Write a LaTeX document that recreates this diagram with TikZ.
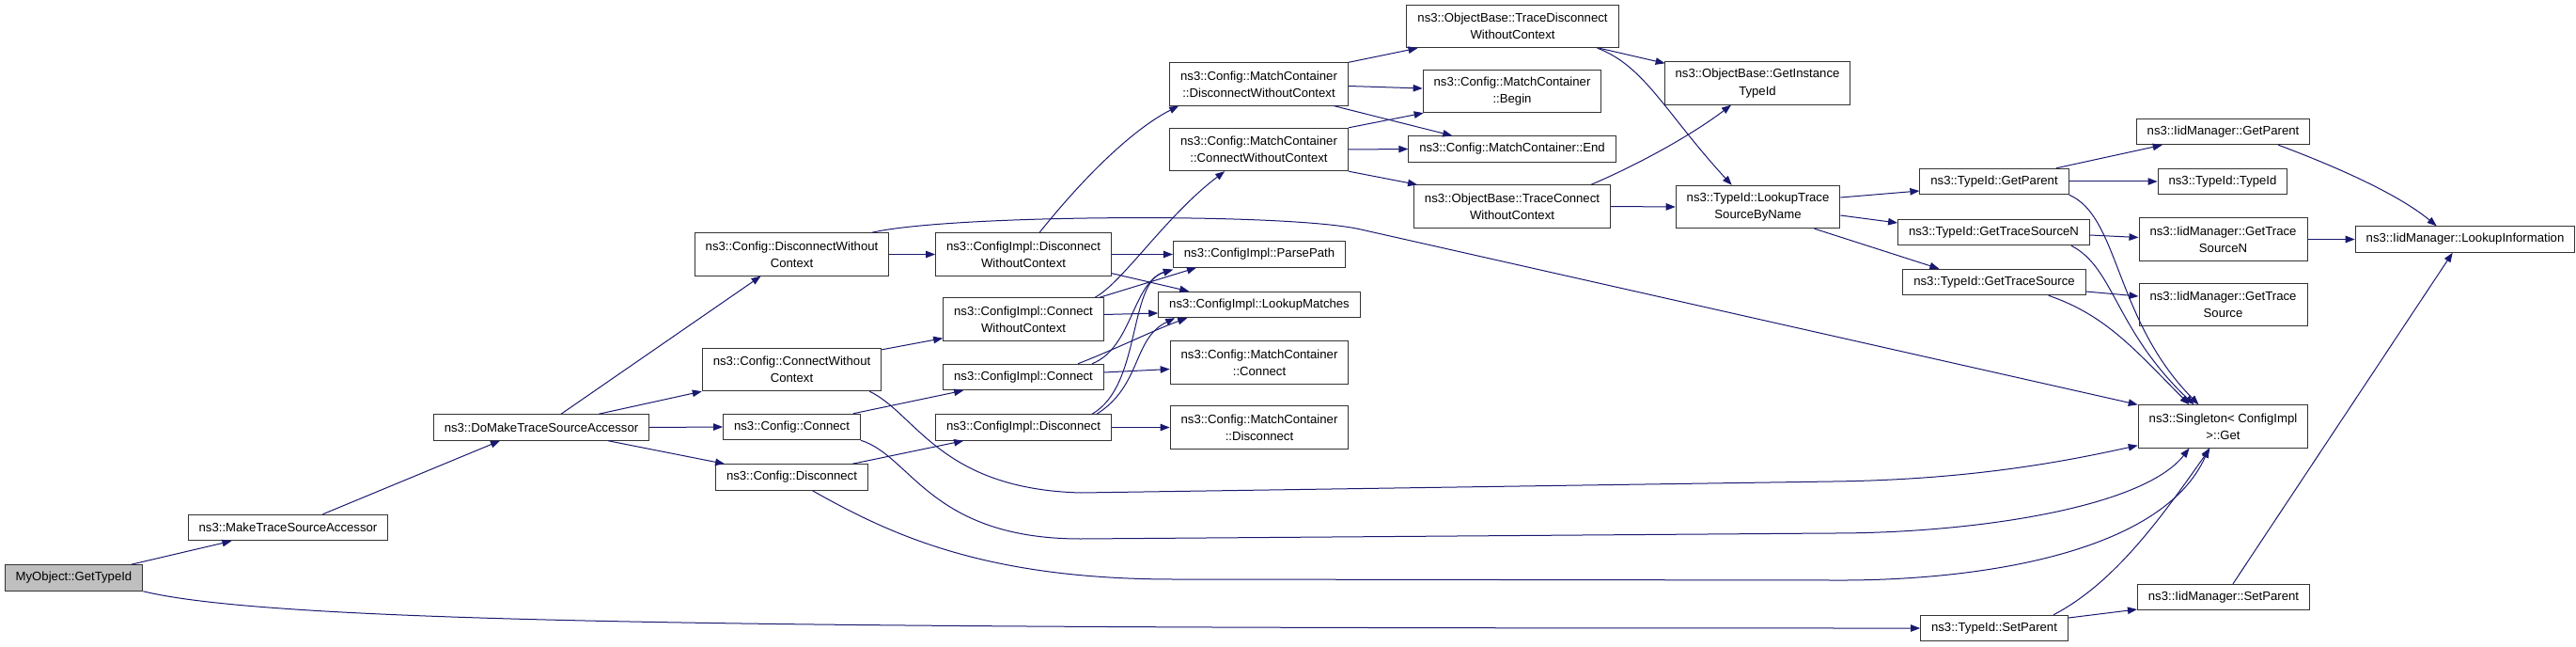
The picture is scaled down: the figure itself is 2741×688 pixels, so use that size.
\documentclass[tikz,border=0pt]{standalone}
\usepackage{fontspec}
\setmainfont{Liberation Sans}
\usetikzlibrary{arrows.meta}
\usetikzlibrary{calc}
\usepackage{xcolor}

\definecolor{edgeblue}{HTML}{191970}
\definecolor{rootgray}{HTML}{BFBFBF}

\tikzset{
  fn/.style={draw=black!80, line width=0.75pt, fill=white, align=center,
    font=\fontsize{9.87}{13.7}\selectfont, inner xsep=8.6pt, inner ysep=1pt,
    minimum height=20.6pt},
  fn2/.style={fn, minimum height=34pt},
  call/.style={draw=edgeblue, line width=0.75pt,
    -{Triangle[length=7.5pt,width=5.6pt]}},
}

\begin{document}
\begin{tikzpicture}[x=0.75pt,y=-0.75pt]
        \useasboundingbox (0,0) rectangle (2741,688);
        %% functions
        \node[fn, fill=rootgray] (root) at (78.5,614.5) {MyObject::GetTypeId};
        \node[fn] (mtsa) at (306.5,561) {ns3::MakeTraceSourceAccessor};
        \node[fn] (dmtsa) at (576,454.5) {ns3::DoMakeTraceSourceAccessor};
        \node[fn2] (cdwc) at (842.5,270.5) {ns3::Config::DisconnectWithout\\Context};
        \node[fn2] (ccwc) at (842.5,393) {ns3::Config::ConnectWithout\\Context};
        \node[fn] (cc) at (842.5,454) {ns3::Config::Connect};
        \node[fn] (cd) at (842.5,507.5) {ns3::Config::Disconnect};
        \node[fn2] (idwc) at (1089,270.5) {ns3::ConfigImpl::Disconnect\\WithoutContext};
        \node[fn2] (icwc) at (1089,339.5) {ns3::ConfigImpl::Connect\\WithoutContext};
        \node[fn] (ic) at (1089,401) {ns3::ConfigImpl::Connect};
        \node[fn] (id) at (1089,454.5) {ns3::ConfigImpl::Disconnect};
        \node[fn2] (mdwc) at (1339.5,89.5) {ns3::Config::MatchContainer\\::DisconnectWithoutContext};
        \node[fn2] (mcwc) at (1339.5,159) {ns3::Config::MatchContainer\\::ConnectWithoutContext};
        \node[fn] (pp) at (1340,270.5) {ns3::ConfigImpl::ParsePath};
        \node[fn] (lm) at (1340,324) {ns3::ConfigImpl::LookupMatches};
        \node[fn2] (mcc) at (1340,385.5) {ns3::Config::MatchContainer\\::Connect};
        \node[fn2] (mcd) at (1340,454.5) {ns3::Config::MatchContainer\\::Disconnect};
        \node[fn2] (otdwc) at (1609.5,28) {ns3::ObjectBase::TraceDisconnect\\WithoutContext};
        \node[fn2] (mcb) at (1609,97) {ns3::Config::MatchContainer\\::Begin};
        \node[fn] (mce) at (1609,158.5) {ns3::Config::MatchContainer::End};
        \node[fn2] (otcwc) at (1609,219.5) {ns3::ObjectBase::TraceConnect\\WithoutContext};
        \node[fn2] (ogit) at (1870,88.5) {ns3::ObjectBase::GetInstance\\TypeId};
        \node[fn2] (lts) at (1870.5,220) {ns3::TypeId::LookupTrace\\SourceByName};
        \node[fn] (tgp) at (2122,193) {ns3::TypeId::GetParent};
        \node[fn] (tgsn) at (2121.5,247) {ns3::TypeId::GetTraceSourceN};
        \node[fn] (tgs) at (2122,300) {ns3::TypeId::GetTraceSource};
        \node[fn] (tsp) at (2122,668) {ns3::TypeId::SetParent};
        \node[fn] (igp) at (2365.5,140) {ns3::IidManager::GetParent};
        \node[fn] (tti) at (2365,193) {ns3::TypeId::TypeId};
        \node[fn2] (igsn) at (2365.5,254.5) {ns3::IidManager::GetTrace\\SourceN};
        \node[fn2] (igs) at (2365.5,324) {ns3::IidManager::GetTrace\\Source};
        \node[fn2] (sg) at (2365.5,453.5) {ns3::Singleton< ConfigImpl\\>::Get};
        \node[fn] (isp) at (2366,635) {ns3::IidManager::SetParent};
        \node[fn] (li) at (2623,254.5) {ns3::IidManager::LookupInformation};
        %%
        %% calls, left part
        \draw[call] ($(root.north)+(61,0)$) -- ($(mtsa.south)+(-60,0)$);
        \draw[call] (root.south east) .. controls (300,665) and (900,668) .. (tsp.west);
        \draw[call] ($(mtsa.north)+(37,0)$) -- ($(dmtsa.south)+(-44,0)$);
        \draw[call] ($(dmtsa.north)+(21,0)$) -- ($(cdwc.south)+(-33,0)$);
        \draw[call] ($(dmtsa.north)+(61,0)$) -- (ccwc.south west);
        \draw[call] (dmtsa.east) -- (cc.west);
        \draw[call] ($(dmtsa.south)+(71,0)$) -- ($(cd.north west)+(10,0)$);
        \draw[call] (cdwc.east) -- (idwc.west);
        \draw[call] ($(cdwc.north)+(85,0)$) .. controls (1010,228) and (1370,226) .. (1448,244) -- (sg.north west);
        \draw[call] ($(ccwc.north east)+(0,2)$) -- ($(icwc.south west)+(0,-3)$);
        \draw[call] ($(ccwc.south east)+(-13,0)$) .. controls (975,440) and (1000,520) .. (1150,524)
          -- (1950,512) .. controls (2100,510) and (2200,490) .. ($(sg.south west)+(0,-3)$);
        \draw[call] ($(cc.north east)+(-8,0)$) -- ($(ic.south west)+(22,0)$);
        \draw[call] (cc.south east) .. controls (970,485) and (990,573) .. (1150,573)
          -- (1950,567) .. controls (2100,567) and (2280,540) .. ($(sg.south)+(-36,0)$);
        \draw[call] ($(cd.north east)+(-17,0)$) -- ($(id.south west)+(30,0)$);
        \draw[call] ($(cd.south)+(22,0)$) .. controls (950,570) and (1050,616) .. (1250,616)
          -- (1950,617) .. controls (2100,618) and (2300,590) .. ($(sg.south)+(-15,0)$);
        %%
        %% calls, ConfigImpl
        \draw[call] ($(idwc.north)+(17,0)$) .. controls (1160,180) and (1210,135) .. ($(mdwc.south west)+(10,0)$);
        \draw[call] (idwc.east) -- (pp.west);
        \draw[call] ($(idwc.south east)+(0,-3)$) -- ($(lm.north west)+(33,0)$);
        \draw[call] ($(icwc.north)+(76,0)$) .. controls (1195,300) and (1240,230) .. ($(mcwc.south west)+(59,0)$);
        \draw[call] ($(icwc.north east)+(-5,0)$) -- ($(pp.south west)+(25,0)$);
        \draw[call] ($(icwc.east)+(0,-5)$) -- ($(lm.west)+(0,9)$);
        \draw[call] ($(ic.north)+(73,0)$) .. controls (1205,370) and (1205,300) .. ($(pp.south west)+(0,2)$);
        \draw[call] ($(ic.north)+(58,0)$) .. controls (1190,370) and (1230,350) .. ($(lm.south west)+(31,0)$);
        \draw[call] ($(ic.east)+(0,-5)$) -- ($(mcc.west)+(0,7)$);
        \draw[call] ($(id.north)+(73,0)$) .. controls (1215,410) and (1200,300) .. ($(pp.south west)+(0,2)$);
        \draw[call] ($(id.north)+(78,0)$) .. controls (1215,410) and (1205,360) .. ($(lm.south west)+(18,0)$);
        \draw[call] (id.east) -- (mcd.west);
        %%
        %% calls, MatchContainer and ObjectBase
        \draw[call] (mdwc.north east) -- ($(otdwc.south west)+(12,0)$);
        \draw[call] ($(mdwc.east)+(0,2)$) -- ($(mcb.west)+(0,-3)$);
        \draw[call] ($(mdwc.south)+(80,0)$) -- ($(mce.north west)+(47,0)$);
        \draw[call] (mcwc.north east) -- ($(mcb.south west)+(1,0)$);
        \draw[call] (mcwc.east) -- (mce.west);
        \draw[call] (mcwc.south east) -- ($(otcwc.north west)+(4,0)$);
        \draw[call] ($(otdwc.south east)+(-21,0)$) -- ($(ogit.north west)+(1,2)$);
        \draw[call] ($(otdwc.south east)+(-23,0)$) .. controls (1750,70) and (1772,120) .. ($(lts.north west)+(60,0)$);
        \draw[call] ($(otcwc.north)+(84,0)$) .. controls (1750,172) and (1805,140) .. ($(ogit.south)+(-28,0)$);
        \draw[call] (otcwc.east) -- (lts.west);
        %%
        %% calls, TypeId and IidManager
        \draw[call] ($(lts.east)+(0,-10)$) -- ($(tgp.west)+(0,10)$);
        \draw[call] ($(lts.east)+(0,9)$) -- ($(tgsn.west)+(0,-10)$);
        \draw[call] ($(lts.south)+(60,0)$) -- ($(tgs.north west)+(39,0)$);
        \draw[call] ($(tgp.north)+(66,0)$) -- ($(igp.south west)+(28,0)$);
        \draw[call] (tgp.east) -- (tti.west);
        \draw[call] (tgp.south east) .. controls (2255,230) and (2250,340) .. ($(sg.north)+(-26,0)$);
        \draw[call] ($(tgsn.east)+(0,3)$) -- ($(igsn.west)+(0,-2)$);
        \draw[call] ($(tgsn.south east)+(-20,0)$) .. controls (2250,285) and (2250,350) .. ($(sg.north)+(-31,0)$);
        \draw[call] ($(tgs.east)+(0,10)$) -- ($(igs.west)+(0,-9)$);
        \draw[call] ($(tgs.south east)+(-40,0)$) .. controls (2240,335) and (2270,370) .. ($(sg.north)+(-36,0)$);
        \draw[call] ($(igp.south east)+(-34,0)$) .. controls (2480,175) and (2550,205) .. ($(li.north west)+(87,0)$);
        \draw[call] (igsn.east) -- (li.west);
        \draw[call] ($(isp.north)+(10,0)$) -- ($(li.south west)+(104,0)$);
        \draw[call] ($(tsp.east)+(0,-11)$) -- ($(isp.west)+(0,13)$);
        \draw[call] ($(tsp.north)+(63,0)$) .. controls (2250,620) and (2300,550) .. ($(sg.south)+(-14,0)$);
\end{tikzpicture}
\end{document}
